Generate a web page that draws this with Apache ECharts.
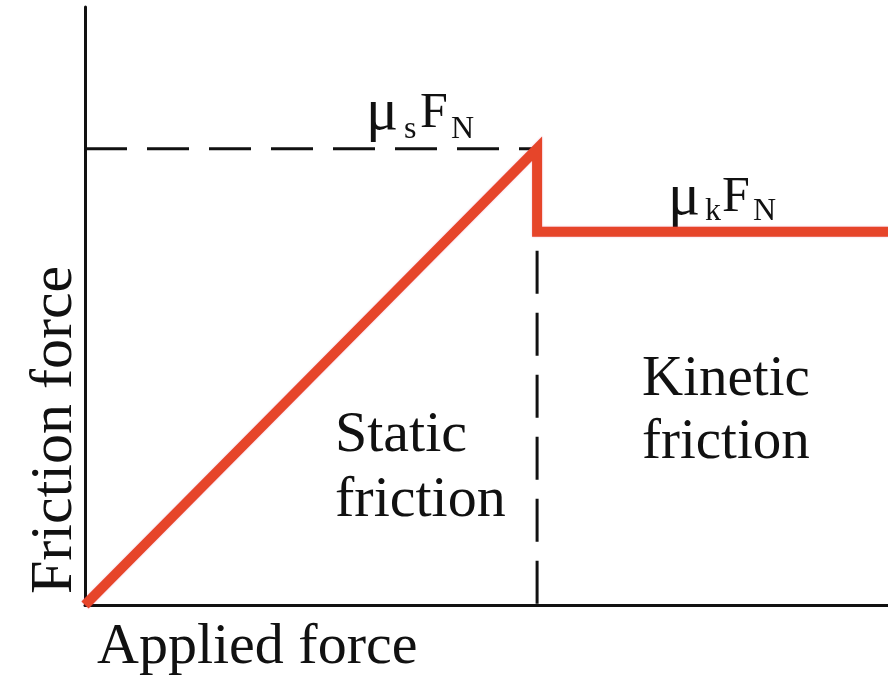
<!DOCTYPE html>
<html>
<head>
<meta charset="utf-8">
<script src="https://cdn.jsdelivr.net/npm/echarts@6/dist/echarts.min.js"></script>
<style>
  html, body { margin: 0; padding: 0; background: #fff; }
  #chart { width: 888px; height: 676px; }
</style>
</head>
<body>
<div id="chart"></div>
<script>
// friction vs applied force (arbitrary units, 0..100 on both axes)
var frictionCurve = [[0, 0], [56.3, 76.3], [56.3, 62.4], [100, 62.4]];
var staticMaxLine = [[0, 76.3], [56.3, 76.3]];
var kineticDivider = [[56.3, 62.4], [56.3, 0]];
var axisNames = ['Applied force', 'Friction force'];
var regionLabels = [['Static', 'friction'], ['Kinetic', 'friction']];

var serif = '"Liberation Serif", "Times New Roman", serif';
var ink = '#111';

var chart = echarts.init(document.getElementById('chart'));

function txt(x, y, s, size, extra) {
  var o = {
    type: 'text', x: x, y: y,
    style: { text: s, font: size + 'px ' + serif, fill: ink, align: 'left', verticalAlign: 'middle' }
  };
  if (extra) for (var k in extra) o[k] = extra[k];
  return o;
}

var option = {
  backgroundColor: '#fff',
  animation: false,
  grid: { left: 85, right: 0, top: 7, bottom: 71 },
  xAxis: {
    type: 'value', min: 0, max: 100,
    axisLine: { show: true, lineStyle: { color: ink, width: 3 } },
    axisTick: { show: false }, axisLabel: { show: false }, splitLine: { show: false }
  },
  yAxis: {
    type: 'value', min: 0, max: 100,
    axisLine: { show: true, lineStyle: { color: ink, width: 3 } },
    axisTick: { show: false }, axisLabel: { show: false }, splitLine: { show: false }
  },
  series: [
    {
      type: 'line', data: staticMaxLine, symbol: 'none', silent: true,
      lineStyle: { color: ink, width: 3, type: [42, 20] }
    },
    {
      type: 'line', data: kineticDivider, symbol: 'none', silent: true,
      lineStyle: { color: ink, width: 3, type: [43, 19], dashOffset: 43 }
    },
    {
      type: 'line', data: frictionCurve, symbol: 'none', silent: true,
      lineStyle: { color: '#e6452a', width: 10, join: 'miter', shadowColor: 'rgba(220,40,120,0.35)', shadowBlur: 2 }
    }
  ],
  graphic: [
    txt(97, 648, axisNames[0], 58),
    txt(55, 594, axisNames[1], 60, { rotation: Math.PI / 2 }),
    txt(335, 436, regionLabels[0][0], 58),
    txt(335, 501, regionLabels[0][1], 58),
    txt(642, 380, regionLabels[1][0], 57),
    txt(642, 443, regionLabels[1][1], 57),
    // mu_s F_N
    txt(366, 113, '\u03bc', 60),
    txt(404, 130, 's', 32),
    txt(420, 114, 'F', 50),
    txt(451, 130, 'N', 32),
    // mu_k F_N
    txt(668, 198, '\u03bc', 60),
    txt(705, 212, 'k', 32),
    txt(722, 198, 'F', 50),
    txt(753, 212, 'N', 32)
  ]
};
chart.setOption(option);
</script>
</body>
</html>
